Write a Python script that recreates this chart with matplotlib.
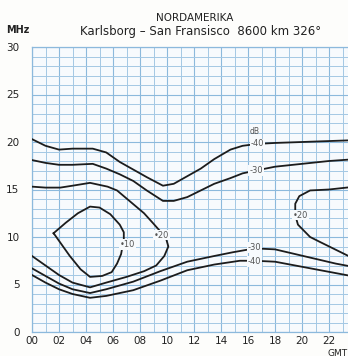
import matplotlib
matplotlib.use("Agg")
import matplotlib.pyplot as plt
from matplotlib.ticker import MultipleLocator

# Time of day (GMT, hours) and frequency (MHz) of each contour line
upper_40_h = [0, 1, 2, 3, 4.5, 5.5, 6.5, 7.5, 8.5, 9.7, 10.5, 11.5, 12.5, 13.5, 14.7, 15.6, 16.7, 18, 20, 22, 24]
upper_40_f = [20.3, 19.6, 19.2, 19.3, 19.3, 18.9, 17.9, 17.1, 16.3, 15.4, 15.6, 16.4, 17.2, 18.2, 19.2, 19.6, 19.8, 19.9, 20.0, 20.1, 20.2]

upper_30_h = [0, 1, 2, 3, 4.5, 5.5, 6.5, 7.5, 8.5, 9.7, 10.5, 11.5, 12.5, 13.5, 14.7, 15.6, 16.6, 18, 20, 22, 24]
upper_30_f = [18.1, 17.8, 17.6, 17.6, 17.7, 17.2, 16.6, 15.9, 14.9, 13.8, 13.8, 14.2, 14.9, 15.6, 16.2, 16.7, 17.0, 17.4, 17.7, 18.0, 18.2]

left_20_h = [0, 1, 2, 3, 4.3, 5.5, 7.0, 8.3, 9.2, 9.8, 10.1, 9.9, 9.5, 9.0, 8.3, 7.3, 6.3, 5.6, 4.3, 3.0, 2.1, 1.0, 0]
left_20_f = [8.0, 7.0, 6.0, 5.2, 4.7, 5.2, 5.8, 6.4, 7.0, 8.0, 9.0, 10.0, 10.6, 11.4, 12.5, 13.7, 14.9, 15.3, 15.7, 15.4, 15.2, 15.2, 15.3]

inner_10_h = [1.6, 2.5, 3.4, 4.3, 5.0, 5.8, 6.5, 6.8, 6.8, 6.7, 6.6, 6.3, 5.9, 5.2, 4.3, 3.6, 2.8, 2.2, 1.6]
inner_10_f = [10.4, 11.5, 12.5, 13.2, 13.1, 12.4, 11.3, 10.5, 9.8, 9.0, 8.2, 7.2, 6.3, 5.9, 5.8, 6.6, 8.0, 9.2, 10.4]

lower_30_h = [0, 1, 2, 3, 4.3, 5.5, 7.5, 9.5, 11.5, 13.5, 14.9, 16.5, 18, 19.5, 21, 22.5, 24]
lower_30_f = [6.7, 5.9, 5.1, 4.5, 4.1, 4.5, 5.3, 6.4, 7.4, 8.0, 8.4, 8.8, 8.7, 8.2, 7.7, 7.2, 6.8]

lower_40_h = [0, 1, 2, 3, 4.3, 5.5, 7.5, 9.5, 11.5, 13.5, 15.4, 16.5, 18, 19.5, 21, 22.5, 24]
lower_40_f = [6.0, 5.2, 4.5, 4.0, 3.6, 3.8, 4.4, 5.4, 6.5, 7.1, 7.5, 7.5, 7.4, 7.0, 6.6, 6.2, 5.8]

right_20_h = [24, 23.3, 22, 20.6, 19.8, 19.5, 19.5, 19.7, 20.6, 21.3, 22.3, 23.3, 24]
right_20_f = [15.3, 15.2, 15.0, 14.9, 14.3, 13.5, 12.3, 11.3, 10.0, 9.5, 8.8, 8.1, 7.6]

contours = [
    (upper_40_h, upper_40_f),
    (upper_30_h, upper_30_f),
    (left_20_h, left_20_f),
    (inner_10_h, inner_10_f),
    (lower_30_h, lower_30_f),
    (lower_40_h, lower_40_f),
    (right_20_h, right_20_f),
]

# Level labels: text, hour, MHz, alignment
level_labels = [
    ("-40", 16.7, 19.8, "center"),
    ("-30", 16.6, 17.0, "center"),
    ("-30", 16.5, 8.9, "center"),
    ("-40", 16.5, 7.4, "center"),
    ("•10", 6.5, 9.2, "left"),
    ("•20", 9.0, 10.2, "left"),
    ("•20", 19.3, 12.3, "left"),
]

x_ticks = list(range(0, 25, 2))
x_tick_labels = ["00", "02", "04", "06", "08", "10", "12", "14", "16", "18", "20", "22", "24"]
y_ticks = [0, 5, 10, 15, 20, 25, 30]

W, H = 348, 356
fig = plt.figure(figsize=(W / 100, H / 100), dpi=100, facecolor="#fdfdfb")
left_px, right_px, top_px, bottom_px = 32, 356, 47, 332
ax = fig.add_axes([left_px / W, 1 - bottom_px / H,
                   (right_px - left_px) / W, (bottom_px - top_px) / H])
ax.set_facecolor("#f7fafd")
ax.set_xlim(0, 24)
ax.set_ylim(0, 30)

ax.xaxis.set_minor_locator(MultipleLocator(1))
ax.yaxis.set_minor_locator(MultipleLocator(1))
ax.grid(which="minor", color="#a4c8e4", lw=0.7)
ax.grid(which="major", color="#8cb9dc", lw=0.8)
ax.set_axisbelow(True)
for s in ax.spines.values():
    s.set_color("#8cb9dc")
    s.set_linewidth(0.9)

ax.set_xticks(x_ticks)
ax.set_xticklabels(x_tick_labels)
ax.set_yticks(y_ticks)
ax.set_yticklabels([str(v) for v in y_ticks])
ax.tick_params(which="both", length=0, labelsize=7.5, colors="#222222", pad=3)
ax.tick_params(axis="y", pad=9)

for hh, ff in contours:
    ax.plot(hh, ff, color="#1c1c1c", lw=1.3, solid_joinstyle="round", zorder=3)

for txt, hh, ff, ha in level_labels:
    ax.text(hh, ff, txt, ha=ha, va="center", fontsize=6, color="#555555", zorder=4,
            bbox=dict(boxstyle="square,pad=0.1", fc="#f7fafd", ec="none"))
ax.text(16.5, 21.1, "dB", ha="center", va="center", fontsize=5.5, color="#555555", zorder=4)

fig.text(195 / W, 1 - 18 / H, "NORDAMERIKA", ha="center", va="center", fontsize=7.5, color="#222222")
fig.text(80 / W, 1 - 31 / H, "Karlsborg – San Fransisco  8600 km 326°", ha="left", va="center",
         fontsize=8.5, color="#222222")
fig.text(6 / W, 1 - 30 / H, "MHz", ha="left", va="center", fontsize=7, fontweight="bold", color="#222222")
fig.text(328 / W, 1 - 353 / H, "GMT", ha="left", va="center", fontsize=6.5, color="#222222")

fig.savefig("out.png", dpi=100, facecolor=fig.get_facecolor())
